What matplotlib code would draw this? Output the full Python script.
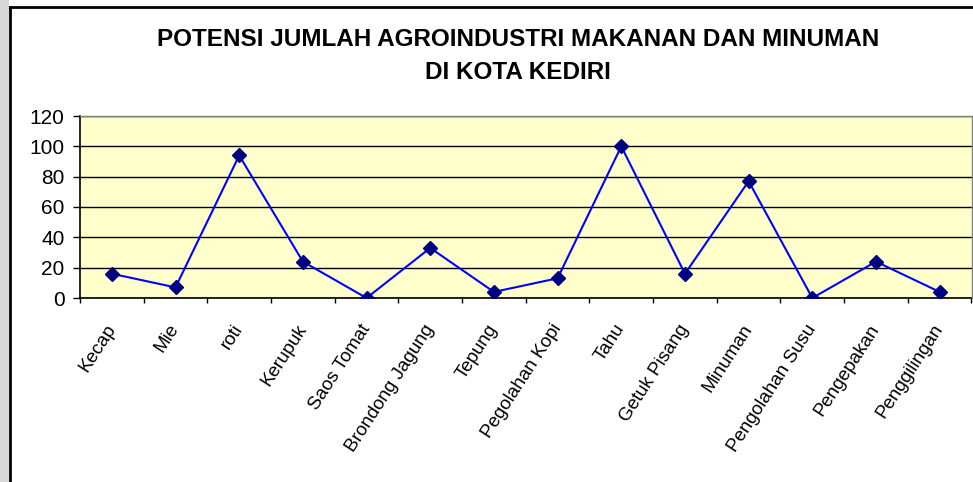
import matplotlib
matplotlib.use("Agg")
import matplotlib.pyplot as plt
from matplotlib.patches import Rectangle
from matplotlib.lines import Line2D

categories = ["Kecap", "Mie", "roti", "Kerupuk", "Saos Tomat", "Brondong Jagung",
              "Tepung", "Pegolahan Kopi", "Tahu", "Getuk Pisang", "Minuman",
              "Pengolahan Susu", "Pengepakan", "Penggilingan"]
values = [16, 7, 94, 24, 0, 33, 4, 13, 100, 16, 77, 0, 24, 4]
yticks = [0, 20, 40, 60, 80, 100, 120]
title = "POTENSI JUMLAH AGROINDUSTRI MAKANAN DAN MINUMAN\nDI KOTA KEDIRI"

plt.rcParams['font.family'] = ['Liberation Sans', 'DejaVu Sans']

W, H = 973, 482
fig = plt.figure(figsize=(W / 100, H / 100), dpi=100)
fig.patch.set_facecolor("white")

# left gray strip and chart border
fig.patches.append(Rectangle((0, 0), 9 / W, 1, transform=fig.transFigure,
                             facecolor="#d9d9d9", edgecolor="none", zorder=0))
fig.lines.append(Line2D([10 / W, 10 / W], [0, 1 - 7 / H], transform=fig.transFigure,
                        color="black", lw=2))
fig.lines.append(Line2D([10 / W, 1], [1 - 7 / H, 1 - 7 / H], transform=fig.transFigure,
                        color="black", lw=2))

left, right, top, bottom = 80, 971.5, 116, 298
ax = fig.add_axes([left / W, 1 - bottom / H, (right - left) / W, (bottom - top) / H])
ax.set_facecolor("#FFFFCC")

x = list(range(len(categories)))
ax.plot(x, values, color="#0000FF", lw=1.5, marker="D", markersize=7.5,
        markerfacecolor="#000080", markeredgecolor="#000080", zorder=3)

ax.set_xlim(-0.5, len(categories) - 0.5)
ax.set_ylim(0, 120)
ax.set_yticks(yticks)
ax.set_yticklabels([str(v) for v in yticks], fontsize=15)
ax.yaxis.grid(True, color="black", lw=1)
ax.set_axisbelow(True)

ax.set_xticks([i - 0.5 for i in range(len(categories) + 1)])
ax.set_xticklabels([])
ax.set_xticks(x, minor=True)
ax.set_xticklabels(categories, minor=True, rotation=57, ha="right", va="center",
                   rotation_mode="anchor", fontsize=13.5)
ax.tick_params(axis="x", which="minor", length=0, pad=20)
ax.tick_params(axis="x", which="major", length=3.8, width=1, direction="out")
ax.tick_params(axis="y", length=5, width=1, direction="out", pad=6)

for s in ["top", "right"]:
    ax.spines[s].set_color("#808080")
    ax.spines[s].set_linewidth(1)
for s in ["left", "bottom"]:
    ax.spines[s].set_color("black")
    ax.spines[s].set_linewidth(1.2)

fig.text(518 / W, 1 - 56 / H, title, ha="center", va="center", fontsize=17.5,
         fontweight="bold", linespacing=1.6)

fig.savefig("out.png", dpi=100)
